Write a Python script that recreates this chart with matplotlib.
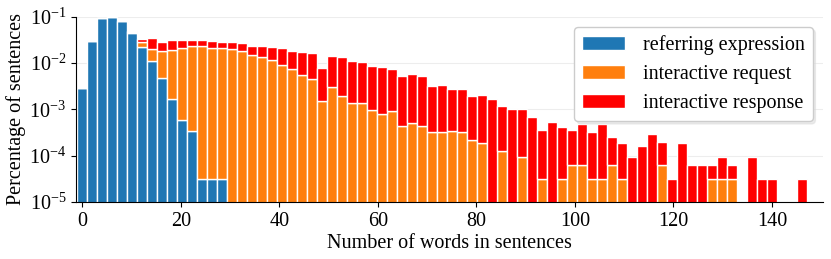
import matplotlib
matplotlib.use("Agg")
import matplotlib.pyplot as plt
import numpy as np

plt.rcParams["font.family"] = "serif"
plt.rcParams["font.serif"] = ["Liberation Serif", "DejaVu Serif"]
plt.rcParams["mathtext.fontset"] = "stix"

# bin centres (number of words), 73 bins
word_bins = np.linspace(0, 146, 73)

referring = [
    2.92e-3, 3.03e-2, 9.37e-2, 1.00e-1, 7.95e-2, 4.37e-2, 2.21e-2, 1.10e-2, 4.8e-3, 1.64e-3,
    6.0e-4, 3.4e-4, 3.2e-5, 3.2e-5, 3.2e-5, 0, 0, 0, 0, 0,
    0, 0, 0, 0, 0, 0, 0, 0, 0, 0,
    0, 0, 0, 0, 0, 0, 0, 0, 0, 0,
    0, 0, 0, 0, 0, 0, 0, 0, 0, 0,
    0, 0, 0, 0, 0, 0, 0, 0, 0, 0,
    0, 0, 0, 0, 0, 0, 0, 0, 0, 0,
    0, 0, 0,
]

request = [
    0, 0, 0, 0, 0, 2.3e-3, 5.8e-3, 9.4e-3, 1.33e-2, 1.78e-2,
    2.08e-2, 2.26e-2, 2.36e-2, 2.14e-2, 2.14e-2, 2.0e-2, 1.81e-2, 1.49e-2, 1.35e-2, 1.14e-2,
    9.2e-3, 7.3e-3, 5.6e-3, 4.6e-3, 1.48e-3, 2.97e-3, 1.93e-3, 1.34e-3, 1.34e-3, 9.5e-4,
    7.9e-4, 9.1e-4, 4.4e-4, 5.0e-4, 4.4e-4, 3.2e-4, 3.2e-4, 3.4e-4, 3.2e-4, 2.2e-4,
    1.9e-4, 0, 1.25e-4, 0, 9.5e-5, 0, 3.2e-5, 0, 3.2e-5, 6.4e-5,
    6.4e-5, 3.2e-5, 3.2e-5, 6.4e-5, 3.2e-5, 0, 0, 0, 6.4e-5, 0,
    0, 0, 0, 3.2e-5, 3.2e-5, 3.2e-5, 0, 0, 0, 0,
    0, 0, 0,
]

response = [
    0, 0, 0, 0, 0, 3.1e-3, 5.1e-3, 1.43e-2, 1.03e-2, 1.15e-2,
    1.05e-2, 8.4e-3, 8.3e-3, 7.9e-3, 7.5e-3, 7.9e-3, 8.4e-3, 8.7e-3, 1.01e-2, 1.07e-2,
    1.15e-2, 1.08e-2, 1.19e-2, 1.15e-2, 6.2e-3, 1.11e-2, 1.13e-2, 9.7e-3, 9.0e-3, 7.75e-3,
    7.26e-3, 6.5e-3, 4.86e-3, 5.27e-3, 4.86e-3, 2.86e-3, 3.07e-3, 2.43e-3, 2.37e-3, 1.74e-3,
    1.84e-3, 1.64e-3, 1.03e-3, 1.01e-3, 9.2e-4, 6.7e-4, 3.2e-4, 5.4e-4, 3.8e-4, 2.9e-4,
    4.2e-4, 2.9e-4, 4.5e-4, 1.9e-4, 1.6e-4, 9.6e-5, 1.6e-4, 2.9e-4, 1.3e-4, 3.2e-5,
    1.9e-4, 6.4e-5, 6.4e-5, 3.2e-5, 6.4e-5, 3.2e-5, 0, 9.6e-5, 3.2e-5, 3.2e-5,
    0, 0, 3.2e-5,
]

labels = ["referring expression", "interactive request", "interactive response"]
colors = ["#1f77b4", "#ff7f0e", "#ff0000"]
y_ticks = [1e-5, 1e-4, 1e-3, 1e-2, 1e-1]
x_ticks = [0, 20, 40, 60, 80, 100, 120, 140]

fig = plt.figure(figsize=(8.31, 2.59), dpi=100)
ax = fig.add_axes([0.0915, 0.22, 0.8985, 0.7155])
ax.set_yscale("log")

bar_width = word_bins[1] - word_bins[0]
ref = np.array(referring)
req = np.array(request)
res = np.array(response)

ax.bar(word_bins, ref, bar_width, color=colors[0], edgecolor="white", linewidth=1, label=labels[0])
ax.bar(word_bins, req, bar_width, bottom=ref, color=colors[1], edgecolor="white", linewidth=1, label=labels[1])
ax.bar(word_bins, res, bar_width, bottom=ref + req, color=colors[2], edgecolor="white", linewidth=1,
       label=labels[2])

ax.set_ylim(1e-5, 1e-1)
ax.set_xlim(-1.3, 150.3)
ax.set_yticks(y_ticks)
ax.set_xticks(x_ticks)
ax.minorticks_off()
ax.yaxis.grid(True, color="0.93", linewidth=0.8)
ax.set_axisbelow(True)
for side in ["top", "right"]:
    ax.spines[side].set_visible(False)

ax.tick_params(labelsize=14.5)
ax.set_xlabel("Number of words in sentences", fontsize=14.5, labelpad=2)
ax.set_ylabel("Percentage of sentences", fontsize=14.5, labelpad=2)

ax.legend(loc="upper right", fontsize=14.5, handlelength=2.1, handletextpad=0.9,
          labelspacing=0.5, borderaxespad=0.5, shadow={"color": "0.85"})

fig.savefig("out.png", dpi=100)
